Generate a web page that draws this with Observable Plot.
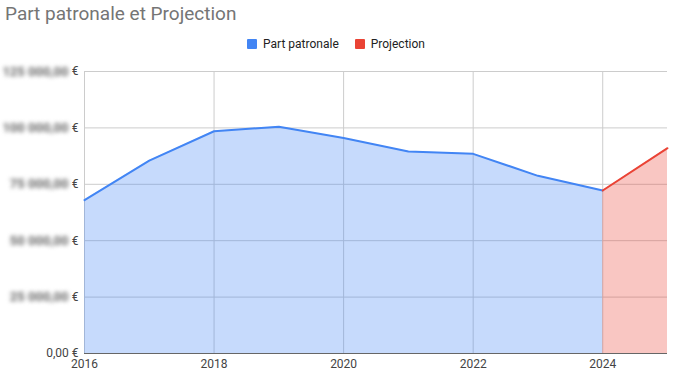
<!DOCTYPE html>
<html><head><meta charset="utf-8">
<script src="https://cdn.jsdelivr.net/npm/d3@7"></script>
<script src="https://cdn.jsdelivr.net/npm/@observablehq/plot@0.6"></script>
<style>
body{margin:0;background:#fff;font-family:Roboto,Arial,sans-serif;width:678px;height:381px;overflow:hidden;position:relative}
#title{position:absolute;left:5px;top:2px;font-size:19px;color:#757575;white-space:nowrap}
#legend{position:absolute;top:37px;left:0;width:672px;display:flex;justify-content:center;align-items:center;font-size:12px;color:#222}
.item{display:flex;align-items:center;margin:0 8px}
.sw{width:10px;height:10px;margin-right:6px;border-radius:1px}
#chart{position:absolute;left:0;top:60px}
</style>
</head><body>
<div id="title">Part patronale et Projection</div>
<div id="legend">
  <div class="item"><div class="sw" style="background:#4285F4"></div>Part patronale</div>
  <div class="item"><div class="sw" style="background:#EA4335"></div>Projection</div>
</div>
<div id="chart"></div>
<script>
const years = [2016, 2017, 2018, 2019, 2020, 2021, 2022, 2023, 2024];
const partPatronale = [68000, 85500, 98500, 100500, 95500, 89500, 88500, 78750, 72250];
const projYears = [2024, 2025];
const projection = [72250, 91000];
const xTicks = [2016, 2018, 2020, 2022, 2024];
const yTicks = [0, 25000, 50000, 75000, 100000, 125000];

const base = years.map((y, i) => ({year: y, value: partPatronale[i]}));
const proj = projYears.map((y, i) => ({year: y, value: projection[i]}));
const numFmt = d => String(d).replace(/\B(?=(\d{3})+(?!\d))/g, " ") + ",00";

const chart = Plot.plot({
  width: 678, height: 321,
  marginTop: 11, marginBottom: 28, marginLeft: 84, marginRight: 11,
  x: {domain: [2016, 2025]},
  y: {domain: [0, 125000]},
  style: {fontFamily: "Roboto, Arial, sans-serif", fontSize: "12px", color: "#444", background: "#fff"},
  marks: [
    Plot.gridX(xTicks, {stroke: "#ccc", strokeOpacity: 1}),
    Plot.gridY(yTicks.filter(d => d > 0), {stroke: "#ccc", strokeOpacity: 1}),
    Plot.areaY(base, {x: "year", y: "value", fill: "#4285F4", fillOpacity: 0.3}),
    Plot.areaY(proj, {x: "year", y: "value", fill: "#EA4335", fillOpacity: 0.3}),
    Plot.lineY(base, {x: "year", y: "value", stroke: "#4285F4", strokeWidth: 2}),
    Plot.lineY(proj, {x: "year", y: "value", stroke: "#EA4335", strokeWidth: 2}),
    Plot.ruleY([0], {stroke: "#666"}),
    Plot.axisX(xTicks, {tickSize: 0, tickPadding: 6, tickFormat: d => String(d), fill: "#444", label: null}),
    Plot.axisY(yTicks, {tickSize: 0, tickPadding: 6, tickFormat: d => d === 0 ? "0,00 €" : "€", fill: "#444", label: null}),
    Plot.text(yTicks.filter(d => d > 0), {y: d => d, text: numFmt, frameAnchor: "left", textAnchor: "end", dx: -16, fill: "#666", fontSize: 13, fontWeight: "bold"})
  ]
});
chart.querySelectorAll('g[aria-label="text"] text').forEach(t => t.style.filter = "blur(2.2px)");
document.getElementById("chart").appendChild(chart);
</script>
</body></html>
